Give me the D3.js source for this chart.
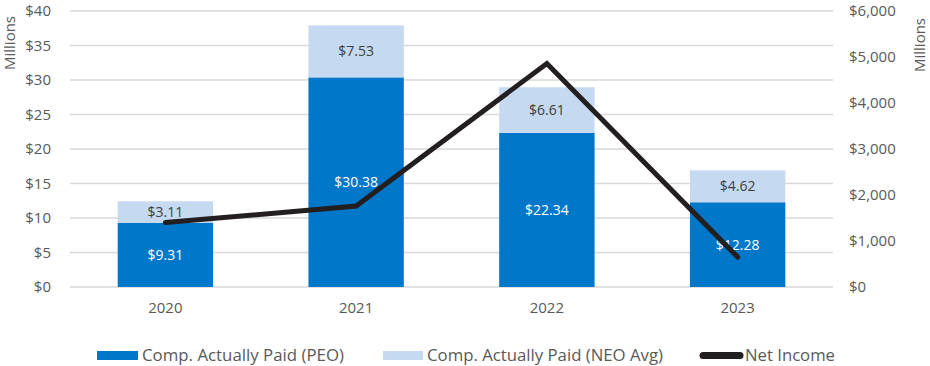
<!DOCTYPE html>
<html>
<head>
<meta charset="utf-8">
<script src="https://cdn.jsdelivr.net/npm/d3@7"></script>
<style>
	body { margin: 0; background: #fff; }
	text { font-family: "Open Sans", sans-serif; }
	.tick text { fill: #595959; font-size: 15px; }
	.gridline { stroke: #d9d9d9; stroke-width: 1.3; }
	.legend text { font-size: 16px; fill: #595959; }
</style>
</head>
<body>
<script>
//chart data
var years = ["2020", "2021", "2022", "2023"];
var peoValues = [9.31, 30.38, 22.34, 12.28];
var neoValues = [3.11, 7.53, 6.61, 4.62];
var netIncome = [1400, 1760, 4860, 650];
var leftTicks = [0, 5, 10, 15, 20, 25, 30, 35, 40];
var rightTicks = [0, 1000, 2000, 3000, 4000, 5000, 6000];
var legendNames = ["Comp. Actually Paid (PEO)", "Comp. Actually Paid (NEO Avg)", "Net Income"];

window.onload = drawChart();

function drawChart(){
	var width = 930,
		height = 366;

	var svg = d3.select("body")
		.append("svg")
		.attr("width", width)
		.attr("height", height);

	//plot area
	var left = 70, right = 833, top = 11, bottom = 287;

	var x = d3.scaleBand()
		.domain(years)
		.range([left, right])
		.paddingInner(0.5)
		.paddingOuter(0.25);

	var yLeft = d3.scaleLinear().domain([0, 40]).range([bottom, top]);
	var yRight = d3.scaleLinear().domain([0, 6000]).range([bottom, top]);

	//gridlines
	svg.selectAll(".gridline")
		.data(leftTicks)
		.enter()
		.append("line")
		.attr("class", "gridline")
		.attr("x1", left)
		.attr("x2", right)
		.attr("y1", function(d){ return yLeft(d); })
		.attr("y2", function(d){ return yLeft(d); });

	//left axis
	var leftAxis = svg.append("g")
		.attr("transform", "translate(" + (left - 16) + ",0)")
		.call(d3.axisLeft(yLeft).tickValues(leftTicks).tickSize(0).tickFormat(function(d){ return "$" + d; }));
	leftAxis.select(".domain").remove();

	//right axis
	var rightAxis = svg.append("g")
		.attr("transform", "translate(" + (right + 13) + ",0)")
		.call(d3.axisRight(yRight).tickValues(rightTicks).tickSize(0).tickFormat(function(d){ return "$" + d3.format(",")(d); }));
	rightAxis.select(".domain").remove();

	//category axis
	var bottomAxis = svg.append("g")
		.attr("transform", "translate(0," + (bottom + 12) + ")")
		.call(d3.axisBottom(x).tickSize(0));
	bottomAxis.select(".domain").remove();

	//axis titles
	svg.append("text")
		.attr("transform", "translate(15,43) rotate(-90)")
		.attr("text-anchor", "middle")
		.style("font-size", "15px")
		.style("fill", "#595959")
		.text("Millions");
	svg.append("text")
		.attr("transform", "translate(925,45) rotate(-90)")
		.attr("text-anchor", "middle")
		.style("font-size", "15px")
		.style("fill", "#595959")
		.text("Millions");

	//PEO bars
	svg.selectAll(".peo")
		.data(years)
		.enter()
		.append("rect")
		.attr("class", "peo")
		.attr("x", function(d){ return x(d); })
		.attr("width", x.bandwidth())
		.attr("y", function(d, i){ return yLeft(peoValues[i]); })
		.attr("height", function(d, i){ return bottom - yLeft(peoValues[i]); })
		.style("fill", "#0077c8");

	//NEO bars stacked on top
	svg.selectAll(".neo")
		.data(years)
		.enter()
		.append("rect")
		.attr("class", "neo")
		.attr("x", function(d){ return x(d); })
		.attr("width", x.bandwidth())
		.attr("y", function(d, i){ return yLeft(peoValues[i] + neoValues[i]); })
		.attr("height", function(d, i){ return yLeft(peoValues[i]) - yLeft(peoValues[i] + neoValues[i]); })
		.style("fill", "#c5d9f1");

	//value labels
	svg.selectAll(".peoLabel")
		.data(years)
		.enter()
		.append("text")
		.attr("class", "peoLabel")
		.attr("x", function(d){ return x(d) + x.bandwidth() / 2; })
		.attr("y", function(d, i){ return yLeft(peoValues[i] / 2); })
		.attr("dy", "0.35em")
		.attr("text-anchor", "middle")
		.style("font-size", "14px")
		.style("fill", "#ffffff")
		.text(function(d, i){ return "$" + peoValues[i].toFixed(2); });

	svg.selectAll(".neoLabel")
		.data(years)
		.enter()
		.append("text")
		.attr("class", "neoLabel")
		.attr("x", function(d){ return x(d) + x.bandwidth() / 2; })
		.attr("y", function(d, i){ return yLeft(peoValues[i] + neoValues[i] / 2); })
		.attr("dy", "0.35em")
		.attr("text-anchor", "middle")
		.style("font-size", "14px")
		.style("fill", "#404040")
		.text(function(d, i){ return "$" + neoValues[i].toFixed(2); });

	//net income line
	var line = d3.line()
		.x(function(d, i){ return x(years[i]) + x.bandwidth() / 2; })
		.y(function(d){ return yRight(d); });

	svg.append("path")
		.datum(netIncome)
		.attr("d", line)
		.style("fill", "none")
		.style("stroke", "#231f20")
		.style("stroke-width", 5)
		.style("stroke-linecap", "round")
		.style("stroke-linejoin", "miter");

	//legend
	var legend = svg.append("g").attr("class", "legend");
	legend.append("rect").attr("x", 97).attr("y", 351).attr("width", 41).attr("height", 9).style("fill", "#0077c8");
	legend.append("text").attr("x", 142).attr("y", 355).attr("dy", "0.35em")
		.attr("textLength", 202).attr("lengthAdjust", "spacingAndGlyphs").text(legendNames[0]);
	legend.append("rect").attr("x", 383).attr("y", 351).attr("width", 40).attr("height", 9).style("fill", "#c5d9f1");
	legend.append("text").attr("x", 427).attr("y", 355).attr("dy", "0.35em")
		.attr("textLength", 236).attr("lengthAdjust", "spacingAndGlyphs").text(legendNames[1]);
	legend.append("line").attr("x1", 703).attr("x2", 740).attr("y1", 355.5).attr("y2", 355.5).style("stroke", "#231f20").style("stroke-width", 7).style("stroke-linecap", "round");
	legend.append("text").attr("x", 745).attr("y", 355).attr("dy", "0.35em")
		.attr("textLength", 90).attr("lengthAdjust", "spacingAndGlyphs").text(legendNames[2]);
}
</script>
</body>
</html>
